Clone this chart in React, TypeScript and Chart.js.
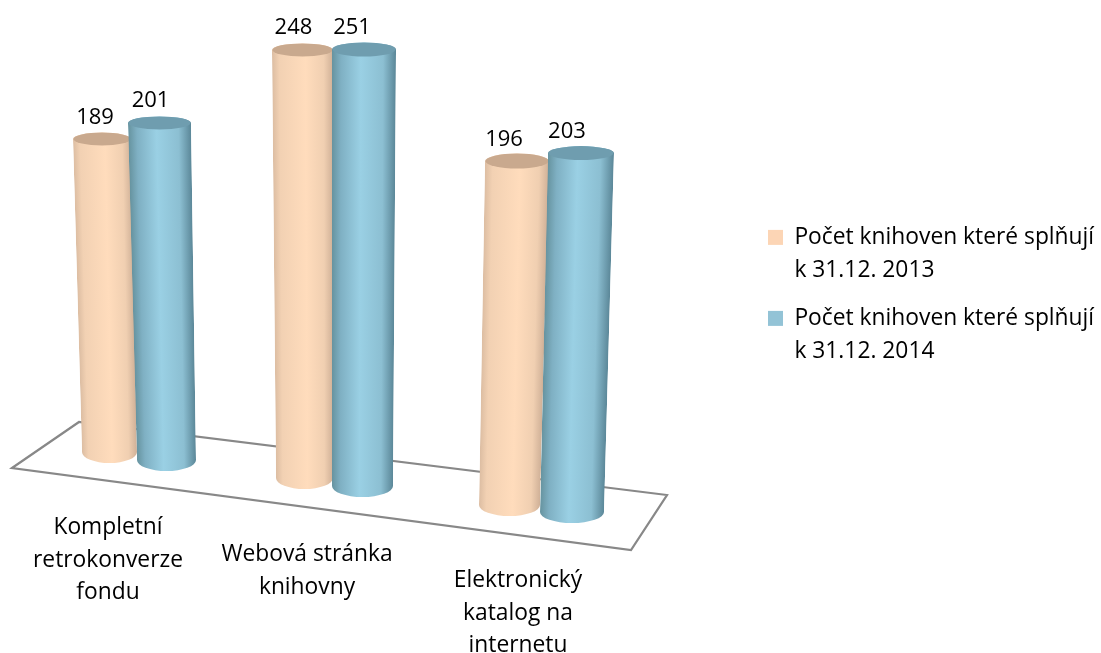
import React, { useEffect, useRef } from "react";
import { Chart, registerables } from "chart.js";

Chart.register(...registerables);

const categories = [
  ["Kompletní", "retrokonverze", "fondu"],
  ["Webová stránka", "knihovny"],
  ["Elektronický", "katalog na", "internetu"],
];
const series2013 = [189, 248, 196];
const series2014 = [201, 251, 203];
const label2013 = ["Počet knihoven které splňují", "k 31.12. 2013"];
const label2014 = ["Počet knihoven které splňují", "k 31.12. 2014"];

const FONT = "'Open Sans', sans-serif";
const FONT_SIZE = 22.8;
const VALUE_FONT_SIZE = 22;

// Perspective of the 3D scene: one frame per [dataset][category].
const frames = [
  [
    { cx: 109.5, cy: 452, rx: 27.5, ry: 11, topRy: 6.5, rise: 1.656, lean: -0.0397, flare: 0.0079, labelDx: -7 },
    { cx: 304.5, cy: 478, rx: 28.5, ry: 11, topRy: 6.5, rise: 1.726, lean: -0.0081, flare: 0.0081, labelDx: -9 },
    { cx: 509.5, cy: 505, rx: 30.5, ry: 11, topRy: 7.5, rise: 1.755, lean: 0.0383, flare: 0.0077, labelDx: -13 },
  ],
  [
    { cx: 166.5, cy: 460, rx: 29.5, ry: 11, topRy: 6.5, rise: 1.677, lean: -0.0348, flare: 0.01, labelDx: -9 },
    { cx: 362.5, cy: 486, rx: 30.5, ry: 11, topRy: 7, rise: 1.739, lean: 0.006, flare: 0.006, labelDx: -12 },
    { cx: 572, cy: 512, rx: 32, ry: 11, topRy: 7, rise: 1.768, lean: 0.0443, flare: 0.0049, labelDx: -14 },
  ],
];
const floorCorners = [[12, 468], [79, 422], [667, 495], [631, 550]];
const categoryPlacement = [
  { x: 108, y: 534 },
  { x: 307, y: 561 },
  { x: 518, y: 587 },
];
const bodyStops = [
  [[0, "#dcbda2"], [0.12, "#f2d1b3"], [0.55, "#ffdcbc"], [0.85, "#f0cfb1"], [1, "#cfb097"]],
  [[0, "#66939f"], [0.14, "#7fb0c3"], [0.45, "#9ad0e4"], [0.8, "#8cbfd2"], [1, "#5b8798"]],
];
const capColors = ["#c9a98e", "#6f9daf"];

function drawCylinder(ctx, el, f, d) {
  const v = el.$value;
  const topCy = f.cy - v * f.rise;
  const topCx = f.cx + v * f.lean;
  const topRx = f.rx + v * f.flare;

  ctx.save();
  ctx.beginPath();
  ctx.moveTo(topCx - topRx, topCy);
  ctx.lineTo(f.cx - f.rx, f.cy);
  ctx.ellipse(f.cx, f.cy, f.rx, f.ry, 0, Math.PI, 0, true);
  ctx.lineTo(topCx + topRx, topCy);
  ctx.ellipse(topCx, topCy, topRx, f.topRy, 0, 0, Math.PI, true);
  ctx.closePath();
  ctx.clip();

  const grad = ctx.createLinearGradient(-1, 0, 1, 0);
  bodyStops[d].forEach(([o, c]) => grad.addColorStop(o, c));
  ctx.fillStyle = grad;
  const y0 = Math.floor(topCy - f.topRy);
  const y1 = Math.ceil(f.cy + f.ry);
  for (let y = y0; y < y1; y++) {
    const t = Math.min(1, Math.max(0, (y - topCy) / (f.cy - topCy)));
    const cx = topCx + (f.cx - topCx) * t;
    const rx = topRx + (f.rx - topRx) * t;
    ctx.setTransform(rx, 0, 0, 1, cx, y);
    ctx.fillRect(-1, 0, 2, 1);
  }
  ctx.restore();

  ctx.beginPath();
  ctx.ellipse(topCx, topCy, topRx - 0.5, f.topRy, 0, 0, Math.PI * 2);
  ctx.fillStyle = capColors[d];
  ctx.fill();
}

const scenePlugin = {
  id: "scene",
  afterLayout(chart) {
    const legend = chart.legend;
    const dx = 753 - legend.left;
    const dy = 211 - legend.top;
    legend.left += dx;
    legend.right += dx;
    legend.top += dy;
    legend.bottom += dy;
  },
  afterDatasetsUpdate(chart) {
    const yScale = chart.scales.y;
    chart.data.datasets.forEach((_, d) => {
      chart.getDatasetMeta(d).data.forEach((el, i) => {
        const f = frames[d][i];
        const v = yScale.getValueForPixel(el.y);
        el.$value = v;
        el.x = f.cx + (v * f.lean) / 2;
        el.y = f.cy - v * f.rise;
        el.base = f.cy;
        el.width = 2 * f.rx;
      });
    });
  },
  beforeDatasetDraw() {
    return false;
  },
  beforeDatasetsDraw(chart) {
    const ctx = chart.ctx;
    ctx.save();
    ctx.beginPath();
    floorCorners.forEach(([x, y], i) => (i ? ctx.lineTo(x, y) : ctx.moveTo(x, y)));
    ctx.closePath();
    ctx.strokeStyle = "#888888";
    ctx.lineWidth = 2.2;
    ctx.stroke();

    categories.forEach((_, i) => {
      chart.data.datasets.forEach((__, d) => {
        drawCylinder(ctx, chart.getDatasetMeta(d).data[i], frames[d][i], d);
      });
    });
    ctx.restore();
  },
  afterDatasetsDraw(chart) {
    const ctx = chart.ctx;
    ctx.save();
    ctx.fillStyle = "#000";
    ctx.textAlign = "center";
    ctx.textBaseline = "alphabetic";
    ctx.font = `${VALUE_FONT_SIZE}px ${FONT}`;
    chart.data.datasets.forEach((ds, d) => {
      chart.getDatasetMeta(d).data.forEach((el, i) => {
        const f = frames[d][i];
        const topCx = f.cx + el.$value * f.lean;
        ctx.fillText(String(ds.data[i]), topCx + f.labelDx, el.y - 15.5);
      });
    });
    ctx.font = `${FONT_SIZE}px ${FONT}`;
    chart.data.labels.forEach((lines, i) => {
      const p = categoryPlacement[i];
      lines.forEach((line, k) => {
        ctx.fillText(line, p.x, p.y + k * 32.5);
      });
    });
    ctx.restore();
  },
};

export default function App() {
  const ref = useRef<HTMLCanvasElement>(null);
  useEffect(() => {
    const chart = new Chart(ref.current, {
      type: "bar",
      data: {
        labels: categories,
        datasets: [
          { label: label2013, data: series2013, backgroundColor: "#fcd5b5", borderWidth: 0 },
          { label: label2014, data: series2014, backgroundColor: "#93c3d6", borderWidth: 0 },
        ],
      },
      options: {
        animation: false,
        responsive: false,
        scales: {
          x: { display: false },
          y: { display: false, min: 0, max: 260 },
        },
        plugins: {
          tooltip: { enabled: false },
          title: { display: false },
          legend: {
            position: "right",
            align: "start",
            labels: {
              boxWidth: 15,
              boxHeight: 15,
              padding: 15,
              color: "#000",
              font: { family: FONT, size: FONT_SIZE, lineHeight: 33 / FONT_SIZE },
            },
          },
        },
      },
      plugins: [scenePlugin],
    });
    return () => chart.destroy();
  }, []);
  return (
    <div style={{ position: "absolute", left: 0, top: 0, width: 1101, height: 653, background: "#fff", overflow: "hidden" }}>
      <canvas ref={ref} width={1101} height={653} style={{ display: "block" }} />
    </div>
  );
}
